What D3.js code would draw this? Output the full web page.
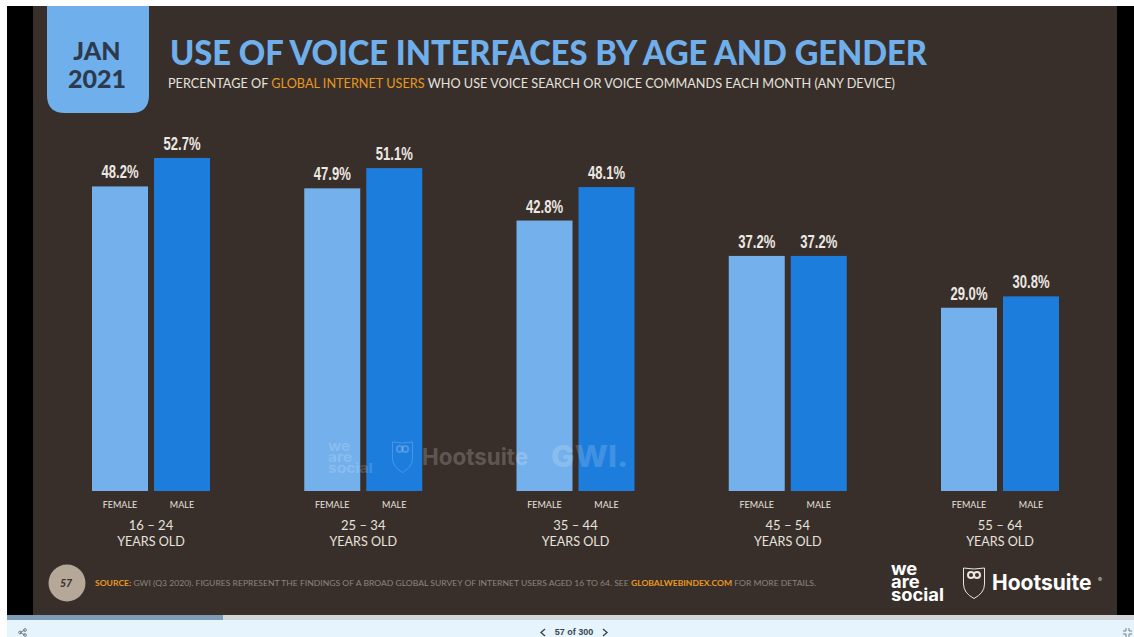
<!DOCTYPE html>
<html>
<head>
<meta charset="utf-8">
<script src="https://cdn.jsdelivr.net/npm/d3@7"></script>
<style>
  html, body { margin: 0; padding: 0; background: #fff; overflow: hidden; }
  svg { display: block; }
</style>
</head>
<body>
<script>
// Chart values: share of internet users using voice interfaces, in percent
const ageGroups = ["16 – 24", "25 – 34", "35 – 44", "45 – 54", "55 – 64"];
const genders = ["FEMALE", "MALE"];
const femaleValues = [48.2, 47.9, 42.8, 37.2, 29.0];
const maleValues = [52.7, 51.1, 48.1, 37.2, 30.8];

const ageCaption = "YEARS OLD";
const titleText = "USE OF VOICE INTERFACES BY AGE AND GENDER";
const subtitleParts = [
  ["PERCENTAGE OF ", "#e6e2dc"],
  ["GLOBAL INTERNET USERS", "#e8991f"],
  [" WHO USE VOICE SEARCH OR VOICE COMMANDS EACH MONTH (ANY DEVICE)", "#e6e2dc"]
];
const sourceParts = [
  ["SOURCE:", "#e8991f", 700],
  [" GWI (Q3 2020). FIGURES REPRESENT THE FINDINGS OF A BROAD GLOBAL SURVEY OF INTERNET USERS AGED 16 TO 64. SEE ", "#8d857c", 400],
  ["GLOBALWEBINDEX.COM", "#e8991f", 700],
  [" FOR MORE DETAILS.", "#8d857c", 400]
];

const W = 1134, H = 637;
const LIGHT = "#74b1ec", DARK = "#1d7ddd", SLIDE = "#382f2b";
const futura = "Lato, 'Noto Sans', sans-serif";
const logoFont = "Inter, 'Noto Sans', sans-serif";

const svg = d3.select("body").append("svg").attr("width", W).attr("height", H);

// Page frame: letterbox, slide panel, progress strip and viewer toolbar
svg.append("rect").attr("width", W).attr("height", H).attr("fill", "#fff");
svg.append("rect").attr("x", 7).attr("y", 6).attr("width", W - 7).attr("height", 609).attr("fill", "#000");
svg.append("rect").attr("x", 33).attr("y", 6).attr("width", 1084).attr("height", 609).attr("fill", SLIDE);
svg.append("rect").attr("x", 7).attr("y", 615).attr("width", W - 7).attr("height", 5).attr("fill", "#d3d5d6");
svg.append("rect").attr("x", 7).attr("y", 615).attr("width", 216).attr("height", 5).attr("fill", "#7f9cb6");
svg.append("rect").attr("x", 7).attr("y", 620).attr("width", W - 7).attr("height", 17).attr("fill", "#e6f5fd");

// Date tab in the top-left corner
svg.append("path")
  .attr("d", "M47,6H149V95Q149,113,131,113H65Q47,113,47,95Z")
  .attr("fill", "#6fb0ec");
svg.selectAll(".tab").data(["JAN", "2021"]).join("text")
  .attr("x", 97).attr("y", (d, i) => [60, 88][i])
  .attr("text-anchor", "middle")
  .attr("font-family", futura).attr("font-weight", 900).attr("font-size", 25)
  .attr("fill", "#2d3a4e").text(d => d);

// Heading
svg.append("text").attr("x", 170).attr("y", 65)
  .attr("font-family", futura).attr("font-weight", 900).attr("font-size", 34)
  .attr("textLength", 757).attr("lengthAdjust", "spacingAndGlyphs")
  .attr("fill", "#6fb0ec").text(titleText);

const sub = svg.append("text").attr("x", 168).attr("y", 88)
  .attr("font-family", futura).attr("font-size", 13.5)
  .attr("textLength", 727).attr("lengthAdjust", "spacingAndGlyphs");
sub.selectAll("tspan").data(subtitleParts).join("tspan")
  .attr("fill", d => d[1]).style("white-space", "pre").text(d => d[0]);

// Scales
const x0 = d3.scaleBand().domain(ageGroups).range([92, 1059]).paddingInner(0.444);
const x1 = d3.scaleBand().domain(genders).range([0, x0.bandwidth()]).paddingInner(0.0968);
const y = d3.scaleLinear().domain([0, 52.7]).range([491, 158]);
const rows = ageGroups.flatMap((age, i) => [
  { age, gender: genders[0], value: femaleValues[i], color: LIGHT },
  { age, gender: genders[1], value: maleValues[i], color: DARK }
]);

// Bars
svg.append("g").selectAll("rect").data(rows).join("rect")
  .attr("x", d => x0(d.age) + x1(d.gender))
  .attr("y", d => y(d.value))
  .attr("width", x1.bandwidth())
  .attr("height", d => y(0) - y(d.value))
  .attr("fill", d => d.color);

// Value labels, set condensed above each bar
svg.append("g").selectAll("text").data(rows).join("text")
  .attr("x", d => x0(d.age) + x1(d.gender) + x1.bandwidth() / 2 - 18.5)
  .attr("y", d => y(d.value) - 8)
  .attr("font-family", "'Liberation Sans', sans-serif").attr("font-weight", 700).attr("font-size", 17.5)
  .attr("textLength", 37).attr("lengthAdjust", "spacingAndGlyphs")
  .attr("fill", "#ece8e2")
  .text(d => d.value.toFixed(1) + "%");

// Gender labels under each bar
svg.append("g").selectAll("text").data(rows).join("text")
  .attr("x", d => x0(d.age) + x1(d.gender) + x1.bandwidth() / 2)
  .attr("y", 508)
  .attr("text-anchor", "middle")
  .attr("font-family", futura).attr("font-size", 9)
  .attr("fill", "#e6e2dc").text(d => d.gender);

// Age group axis with two-line labels
const ageAxis = svg.append("g").attr("transform", "translate(0,530)")
  .call(d3.axisBottom(x0).tickSize(0).tickPadding(0));
ageAxis.select(".domain").remove();
ageAxis.selectAll("text")
  .attr("y", 0).attr("dy", 0)
  .attr("font-family", futura).attr("font-size", 13).attr("fill", "#e6e2dc");
ageAxis.selectAll(".tick").append("text")
  .attr("y", 16).attr("text-anchor", "middle")
  .attr("font-family", futura).attr("font-size", 12.6).attr("fill", "#e6e2dc")
  .text(ageCaption);

// Draws the stacked "we are social" mark as one text block
function weAreSocial(g, xPos, firstBaseline, leading, size, stretch, fill, opacity) {
  const t = g.append("text")
    .attr("transform", `translate(${xPos},${firstBaseline}) scale(${stretch},1)`)
    .attr("font-family", logoFont).attr("font-weight", 700).attr("font-size", size)
    .attr("fill", fill).attr("fill-opacity", opacity);
  t.selectAll("tspan").data(["we", "are", "social"]).join("tspan")
    .attr("x", 0).attr("dy", (d, i) => (i ? leading : 0)).text(d => d);
}

// Draws the owl shield outline scaled to a box
function owlShield(g, xPos, yPos, w, h, stroke, opacity) {
  const s = g.append("g")
    .attr("transform", `translate(${xPos},${yPos}) scale(${w / 22},${h / 32})`)
    .attr("fill", "none").attr("stroke", stroke).attr("stroke-opacity", opacity);
  s.append("path").attr("stroke-width", 1).attr("d", "M0.5,1Q11,3 21.5,1V17Q21.5,26 11,31.5Q0.5,26 0.5,17Z");
  s.append("circle").attr("cx", 8).attr("cy", 8).attr("r", 3).attr("stroke-width", 2);
  s.append("circle").attr("cx", 14).attr("cy", 8).attr("r", 3).attr("stroke-width", 2);
}

// Faint watermark across the middle bars
const mark = svg.append("g");
weAreSocial(mark, 328, 451, 11, 13.5, 1.15, "#fff", 0.16);
owlShield(mark, 392, 441, 21, 32, "#fff", 0.2);
mark.append("text").attr("x", 422).attr("y", 465)
  .attr("font-family", logoFont).attr("font-weight", 700).attr("font-size", 23)
  .attr("textLength", 106).attr("lengthAdjust", "spacingAndGlyphs")
  .attr("fill", "#fff").attr("fill-opacity", 0.2).text("Hootsuite");
mark.append("text").attr("x", 551).attr("y", 467)
  .attr("font-family", logoFont).attr("font-weight", 800).attr("font-size", 30)
  .attr("textLength", 77).attr("lengthAdjust", "spacingAndGlyphs")
  .attr("fill", "#fff").attr("fill-opacity", 0.17).text("GWI.");

// Footer: page badge and source line
svg.append("circle").attr("cx", 67).attr("cy", 583).attr("r", 18.5).attr("fill", "#b5a898");
svg.append("text").attr("x", 66).attr("y", 587).attr("text-anchor", "middle")
  .attr("font-family", futura).attr("font-weight", 900).attr("font-style", "italic")
  .attr("font-size", 10.5).attr("fill", "#3a322c").text("57");

const source = svg.append("text").attr("x", 95).attr("y", 586)
  .attr("font-family", futura).attr("font-size", 8)
  .attr("textLength", 721).attr("lengthAdjust", "spacingAndGlyphs");
source.selectAll("tspan").data(sourceParts).join("tspan")
  .attr("fill", d => d[1]).attr("font-weight", d => d[2]).style("white-space", "pre").text(d => d[0]);

// Footer logos
const logos = svg.append("g");
weAreSocial(logos, 891, 575, 13, 17, 1.08, "#fff", 1);
owlShield(logos, 963, 567, 22, 32, "#e8e6e2", 1);
logos.append("text").attr("x", 992).attr("y", 590)
  .attr("font-family", logoFont).attr("font-weight", 700).attr("font-size", 21)
  .attr("fill", "#fff").text("Hootsuite");
logos.append("text").attr("x", 1098).attr("y", 582)
  .attr("font-family", logoFont).attr("font-size", 6).attr("fill", "#ccc").text("®");

// Viewer toolbar controls
const bar = svg.append("g");
bar.append("text").attr("x", 574).attr("y", 635).attr("text-anchor", "middle")
  .attr("font-family", "'Liberation Sans', sans-serif").attr("font-weight", 700)
  .attr("font-size", 9).attr("fill", "#3b4650").text("57 of 300");
bar.append("path").attr("d", "M545,629L541,632.5L545,636M603,629L607,632.5L603,636")
  .attr("fill", "none").attr("stroke", "#3b4650").attr("stroke-width", 1.4);
const share = bar.append("g").attr("fill", "none").attr("stroke", "#6b7780").attr("stroke-width", 0.9);
share.append("path").attr("d", "M20,632.5L25,630M20,632.5L25,635");
[[20, 632.5], [25, 630], [25, 635]].forEach(p => share.append("circle").attr("cx", p[0]).attr("cy", p[1]).attr("r", 1.4));
bar.append("path")
  .attr("d", "M1126,628V631H1123M1129,628V631H1132M1126,637V634H1123M1129,637V634H1132")
  .attr("fill", "none").attr("stroke", "#6b7780").attr("stroke-width", 0.9);
</script>
</body>
</html>
